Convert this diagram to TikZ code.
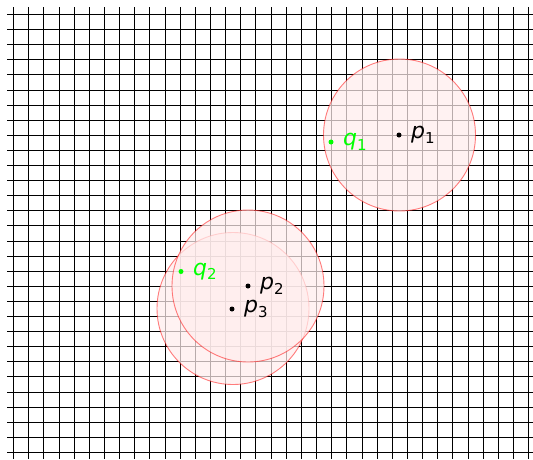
\documentclass[tikz,border=0pt]{standalone}
\usepackage{fontspec}
\setmainfont{DejaVu Sans}
\newcommand{\lblsym}[2]{{\fontsize{22}{26}\selectfont\itshape #1}{\fontsize{15}{17}\selectfont\raisebox{-4.5pt}{#2}}}
\definecolor{limegreen}{RGB}{0,255,0}
\begin{document}
\begin{tikzpicture}[x=1pt,y=-1pt,
  gridline/.style={black,line width=0.9pt},
  disc/.style={fill=red!7,fill opacity=0.72,draw=red,draw opacity=0.5,line width=0.9pt},
  dotp/.style={circle,fill=black,inner sep=0pt,minimum size=5pt},
  dotq/.style={circle,fill=limegreen,inner sep=0pt,minimum size=5pt},
  lblp/.style={anchor=base west,inner sep=0pt,text=black},
  lblq/.style={anchor=base west,inner sep=0pt,text=limegreen}]
\useasboundingbox (0,0) rectangle (533,459);
\fill[white] (0,0) rectangle (533,459);
% grid
\foreach \k in {0,...,34}{
  \pgfmathsetmacro{\gx}{13.5+15.15*\k}
  \draw[gridline] (\gx,7) -- (\gx,459);
}
\foreach \k in {0,...,29}{
  \pgfmathsetmacro{\gy}{14.5+15.1*\k}
  \draw[gridline] (7,\gy) -- (533,\gy);
}
% centres
\coordinate (c1) at (399.5,135);
\coordinate (c2) at (248,286);
\coordinate (c3) at (233,308.5);
% discs
\draw[disc] (c1) circle (76);
\draw[disc] (c3) circle (76);
\draw[disc] (c2) circle (76);
% points
\node[dotp] (p1) at (399,135) {};
\node[dotp] (p2) at (248,286) {};
\node[dotp] (p3) at (232,309) {};
\node[dotq] (q1) at (331,142) {};
\node[dotq] (q2) at (181,271.5) {};
% labels
\node[lblp] (lp1) at (411,138.5) {\lblsym{p}{1}};
\node[lblp] (lp2) at (260,289.5) {\lblsym{p}{2}};
\node[lblp] (lp3) at (244,312.5) {\lblsym{p}{3}};
\node[lblq] (lq1) at (343,145.5) {\lblsym{q}{1}};
\node[lblq] (lq2) at (193,275) {\lblsym{q}{2}};
\end{tikzpicture}
\end{document}
